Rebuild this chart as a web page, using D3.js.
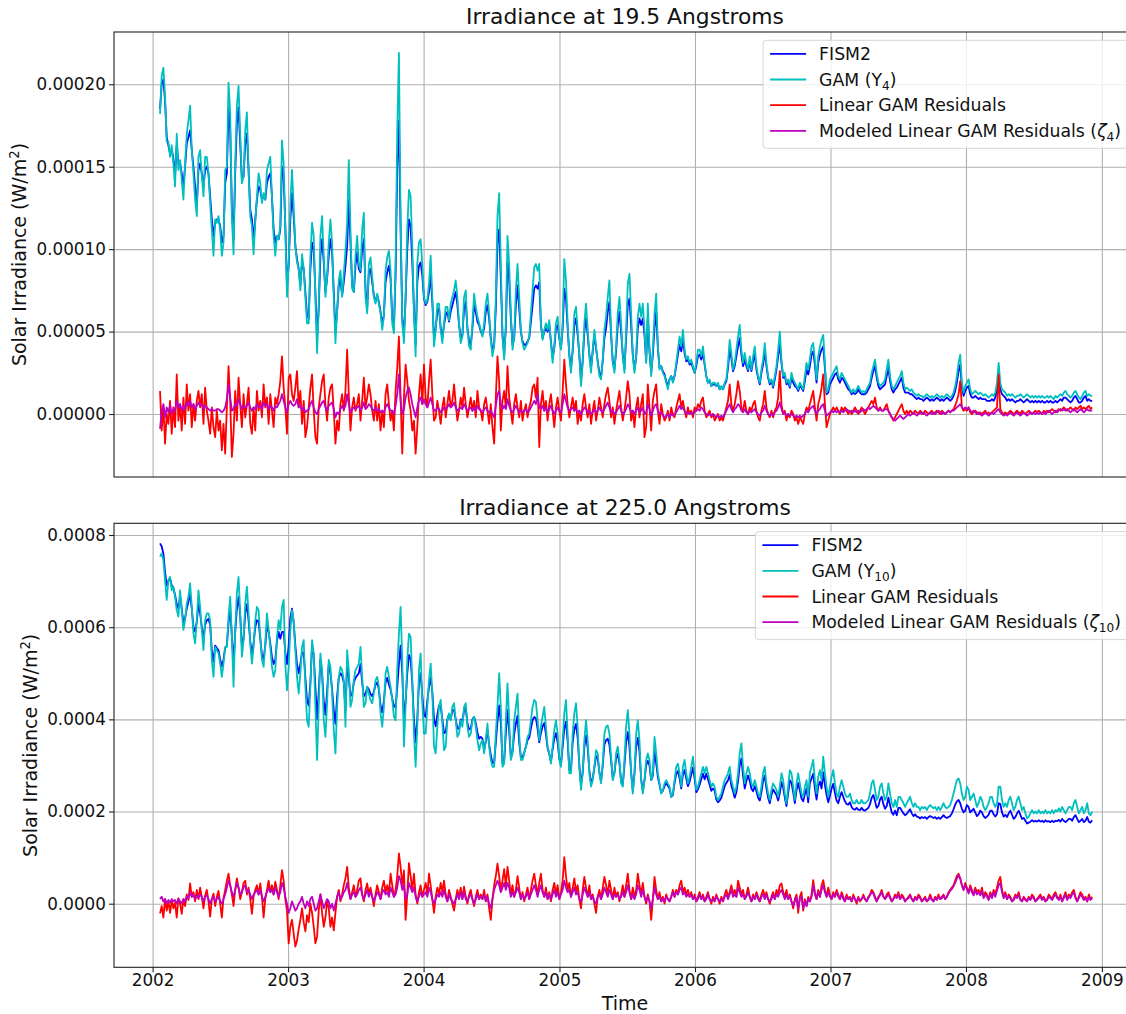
<!DOCTYPE html>
<html>
<head>
<meta charset="utf-8">
<script src="https://cdn.jsdelivr.net/npm/d3@7"></script>
<style>
  html, body { margin: 0; padding: 0; background: #fff; }
  svg { display: block; font-family: "DejaVu Sans", "Liberation Sans", sans-serif; }
</style>
</head>
<body>
<svg id="chart" width="1126" height="1014"></svg>
<script>
// Sampling of every series: one value every 4.5 days starting at startDate (UTC).
// All irradiance values below are in µW/m² (1e-6 W/m²).
const startDate = "2002-01-21";
const stepDays = 4.5;

// ---- 19.5 Å ----
const fism2_195 = [
185,200,203,190,168,163,158,160,155,145,163,152,152,146,138,150,164,168,172,160,
150,138,126,148,152,146,138,148,150,146,132,118,108,116,118,118,114,104,108,140,
146,185,172,124,106,146,176,186,164,142,144,164,170,148,124,118,106,118,130,138,
136,130,132,130,140,144,146,132,112,104,108,106,112,150,144,114,78,90,118,134,
120,102,94,88,78,92,88,74,60,58,88,104,100,74,46,64,96,106,92,74,
82,96,106,98,74,50,62,78,82,72,80,90,102,130,104,78,74,90,98,88,
86,100,106,76,64,86,88,80,72,68,72,68,62,55,60,80,86,90,82,58,
52,84,150,178,112,
58,48,70,100,118,114,92,64,42,80,90,92,84,70,66,68,74,84,68,46,
52,62,64,52,46,54,60,62,56,62,66,70,74,66,54,46,48,64,68,52,
44,42,52,66,62,56,54,50,48,52,62,66,58,46,38,42,64,104,112,82,
48,36,52,92,82,58,42,46,66,78,64,50,44,42,42,44,46,56,66,76,
78,76,80,54,46,50,52,50,54,44,34,40,52,54,46,40,52,76,70,52,
36,28,38,54,58,48,36,20,32,50,58,48,36,28,38,48,40,32,25,23,
32,46,52,62,68,48,32,27,38,54,62,50,36,27,46,66,70,54,36,27,
34,52,58,54,
58,48,32,58,38,25,36,52,62,40,28,29,26,24,20,17,21,23,20,23,
29,36,42,38,45,37,32,33,30,31,28,25,29,35,36,33,37,30,23,19,
20,17,18,18,17,18,15,16,15,18,20,28,39,34,26,29,35,41,46,36,
29,33,29,26,32,26,32,36,27,22,18,25,30,38,29,22,18,20,16,21,
27,35,43,31,22,23,18,19,16,22,19,17,16,14,17,16,14,20,27,24,
29,36,38,30,19,31,36,39,41,28,12,13,18,20,22,24,25,21,19,22,
21,19,17,15,14,12,13,12,13,15,13,12,12,12,13,15,17,22,26,29,
22,17,15,16,
17,18,23,28,20,15,13,15,16,18,20,22,16,13,13,13,12,12,11,10,
9,10,9,9,8,9,10,9,8,9,8,9,10,9,8,9,8,9,10,9,
8,9,11,14,19,26,30,16,11,14,16,17,12,10,10,11,10,9,10,9,
9,9,8,8,8,9,8,10,15,24,15,12,11,10,8,9,8,9,8,7,
8,8,9,8,7,8,9,8,7,8,7,8,7,8,7,8,7,7,8,7,
8,7,7,8,7,8,9,8,10,10,9,8,7,8,10,11,9,7,7,8,
10,11,8,9,8,8
];

const gam_195 = [
182,205,210,193,165,165,156,163,152,138,170,148,154,142,130,152,170,178,187,160,
146,130,120,156,160,145,132,156,156,146,128,112,96,118,116,120,112,96,104,148,
150,201,183,120,97,152,187,199,170,140,144,172,183,148,120,114,97,116,132,146,
140,128,134,130,148,152,156,132,108,96,108,106,114,166,152,112,71,91,128,148,
126,102,92,88,75,97,88,71,55,55,95,116,108,71,37,65,108,120,96,71,
83,104,118,104,71,43,63,81,87,71,85,99,116,154,112,76,74,96,108,91,
87,112,122,71,61,91,95,83,71,67,73,67,61,51,59,87,95,99,87,55,
49,91,172,219,120,
55,43,71,112,136,132,102,61,35,91,104,106,91,71,67,69,79,96,71,41,
51,67,67,51,43,55,65,65,57,67,71,75,81,71,55,43,47,71,75,51,
41,39,55,73,65,59,55,51,47,55,67,73,61,45,35,41,71,120,134,91,
47,33,55,108,91,61,39,47,75,91,71,51,43,39,41,43,47,61,75,89,
91,87,91,55,45,51,55,51,57,43,31,41,55,59,47,39,55,94,81,55,
35,25,39,61,65,51,35,17,31,55,67,51,35,25,39,51,41,31,23,21,
33,51,59,71,81,51,31,25,41,61,71,55,35,25,51,79,85,61,35,25,
35,59,67,59,
67,51,31,67,39,23,39,61,73,41,27,29,25,23,19,15,21,23,19,23,
31,39,47,41,51,39,33,35,31,33,29,25,31,39,39,35,41,31,23,19,
21,17,19,19,17,19,15,17,15,19,21,31,45,37,27,31,39,47,54,39,
31,37,31,27,35,27,35,41,29,23,19,27,33,43,31,23,19,21,17,23,
29,39,50,33,23,25,19,21,17,25,21,19,17,15,19,17,15,23,31,27,
33,41,43,33,21,35,41,45,48,31,13,15,21,23,25,27,29,23,21,25,
23,21,19,17,15,13,15,13,15,17,15,13,14,13,15,17,19,25,29,33,
25,19,17,18,
19,21,27,33,23,17,15,17,19,21,23,26,19,15,16,15,14,15,13,12,
11,12,11,11,10,11,12,11,10,11,10,11,12,11,10,11,10,11,12,11,
10,11,13,17,23,31,36,19,13,17,19,21,15,12,13,14,13,12,13,12,
11,12,11,10,11,12,11,13,19,31,19,15,14,13,11,12,11,12,11,10,
11,11,12,11,10,11,12,11,10,11,10,11,10,11,10,11,10,10,11,10,
11,10,9,11,10,11,12,11,13,14,12,11,10,11,13,14,12,10,9,11,
13,14,11,12,11,11
];

const resid_195 = [
14,-10,5,-18,0,-6,8,-12,4,-8,24,-4,6,-10,10,-6,18,2,12,-8,
6,-4,8,14,4,12,-6,16,2,-4,-12,4,-8,-14,2,-10,-4,-22,-6,-24,
4,29,8,-26,-12,14,-4,22,6,-8,12,-2,6,16,-6,-12,4,-10,14,2,
8,-2,18,4,10,-6,12,2,-8,10,6,12,20,35,16,4,-12,22,24,12,
8,16,26,4,14,-6,8,-14,-8,4,16,24,2,-14,-18,4,12,20,24,6,
-4,10,16,18,2,-18,-4,-10,6,12,2,14,39,12,-10,4,10,2,6,12,
-4,8,22,4,10,18,12,2,-4,8,-4,6,-10,2,-8,12,18,6,-4,2,
-10,14,28,47,10,
-24,10,30,20,8,2,-10,-4,-24,-8,12,24,6,30,10,4,20,33,12,-4,
-2,8,2,-6,4,10,-2,6,14,4,8,18,6,-4,2,10,4,16,6,-2,
4,10,2,8,-2,14,4,2,-4,6,10,2,-6,6,-8,-18,10,35,20,-10,
8,14,4,29,10,2,-6,6,12,4,-2,8,-4,2,6,-2,4,8,16,18,
10,22,-20,6,14,2,8,-4,6,12,2,-8,4,10,2,-4,14,33,18,6,
-2,4,10,2,8,-6,2,-4,6,12,4,-2,6,-6,2,8,-4,2,10,4,
-2,6,12,16,8,-2,4,-6,2,8,14,4,-4,2,10,20,12,-4,2,-8,
4,10,-2,6,
12,-14,-8,18,4,-10,8,14,18,2,-6,6,0,-4,-2,2,-4,4,0,-2,
4,8,12,4,8,2,-2,4,0,2,-2,4,2,6,4,8,10,2,-2,0,
2,-2,0,-4,-2,0,-4,-2,-4,0,4,8,18,6,2,6,12,20,14,4,
2,8,2,0,4,2,6,8,2,-2,-4,2,6,14,4,0,-2,2,-2,2,
4,10,26,6,0,2,-4,0,-2,2,0,-4,-2,-6,-2,-4,-6,0,4,2,
6,10,14,4,-4,6,10,16,24,6,-8,-4,0,2,4,2,4,2,0,4,
2,4,2,0,2,0,2,4,2,0,2,4,2,0,2,4,6,8,6,10,
4,2,4,2,
2,4,6,2,0,-2,-4,-2,0,2,4,6,2,0,2,0,2,1,0,2,
1,0,2,1,0,2,1,0,1,2,0,1,2,1,0,2,1,0,1,2,
1,2,3,5,8,12,20,4,2,3,2,4,1,0,1,2,1,0,1,0,
1,2,0,1,0,1,2,3,4,24,3,1,0,1,0,1,2,1,0,1,
2,1,0,2,1,0,1,2,1,0,1,2,1,2,1,0,2,1,2,1,
2,3,2,1,2,3,2,3,4,3,2,3,4,3,2,4,3,4,5,3,
4,3,4,5,3,4
];

const modeled_195 = [
-9,2,6,-2,4,1,5,0,3,2,8,4,6,2,5,3,7,5,8,4,
6,3,5,7,5,6,3,5,4,3,2,3,2,2,3,3,2,1,2,4,
9,18,10,2,3,6,5,9,6,3,5,4,5,7,4,2,4,3,6,4,
5,3,7,5,6,3,5,4,2,5,4,6,8,12,8,4,1,6,8,6,
5,6,9,4,5,2,4,1,2,3,6,8,4,1,0,3,5,7,8,4,
2,5,6,7,3,-2,1,0,3,5,3,5,12,6,1,3,4,3,4,5,
2,4,7,3,4,6,5,3,2,4,2,3,1,2,1,4,6,4,2,2,
0,5,12,24,8,
0,3,10,14,16,12,6,2,-2,4,8,10,6,9,6,4,7,10,6,2,
2,4,3,1,2,4,3,4,6,4,5,7,4,2,3,4,3,6,4,2,
3,4,2,4,2,5,3,2,1,3,4,2,1,2,0,-2,5,12,14,6,
3,5,3,9,5,2,1,3,5,3,1,2,1,2,3,1,2,4,6,8,
6,12,4,3,5,2,4,1,3,5,2,0,2,4,2,1,6,12,8,4,
2,3,4,2,3,1,2,0,2,4,3,1,2,0,1,3,1,2,4,2,
1,3,5,7,4,1,2,0,1,3,5,2,0,1,3,6,4,1,2,0,
2,4,1,2,
4,0,1,6,3,-1,2,5,6,2,0,1,-1,-2,-1,0,-2,0,-1,0,
1,3,5,3,4,2,0,1,0,1,0,1,2,3,2,4,3,1,0,-1,
0,-1,0,-1,-2,-1,-2,-1,-2,0,2,4,6,3,1,3,4,6,5,2,
1,3,1,0,2,1,2,3,1,0,-1,1,2,5,2,0,-1,0,-1,1,
2,4,7,3,0,1,-1,0,-1,0,-1,-2,-1,-2,-1,-2,-1,0,2,1,
3,4,5,2,0,2,3,5,6,2,-1,0,1,2,1,2,1,2,1,2,
1,2,3,2,1,2,1,2,1,2,1,2,3,2,3,4,3,4,5,4,
3,2,3,2,
2,3,3,2,0,-2,-3,-4,-3,-2,-1,-2,-3,-2,-1,0,-1,0,1,0,
-1,0,1,0,1,0,-1,0,1,0,1,0,1,2,1,0,1,0,1,2,
1,2,2,3,4,5,6,4,3,4,3,4,2,1,2,1,0,1,0,-1,
0,1,0,-1,0,1,0,1,2,3,1,0,-1,0,-1,0,1,0,-1,0,
1,0,-1,0,1,0,-1,0,1,0,1,0,1,0,1,0,1,0,1,2,
1,0,1,2,1,2,3,2,3,2,3,2,1,2,3,2,1,2,3,2,
1,2,3,2,2,2
];

// ---- 225.0 Å ----
const fism2_2250 = [
782,775,760,720,690,700,706,690,684,670,650,640,668,640,610,620,640,655,672,640,
600,590,612,650,630,600,575,605,615,618,605,550,525,560,555,550,530,515,530,555,
560,610,640,580,520,590,640,665,625,560,575,630,650,615,570,540,565,600,615,612,
575,540,530,560,605,590,565,535,520,530,570,590,575,590,590,545,520,560,620,640,
610,560,520,500,520,545,545,490,440,430,480,560,540,470,400,460,530,500,440,410,
460,520,500,465,420,390,450,490,500,495,480,420,520,490,450,455,480,490,495,500,
520,480,450,455,470,465,455,450,460,475,480,465,430,415,440,480,490,475,465,445,
430,425,470,520,560,500,400,440,500,540,530,480,400,350,400,480,500,450,410,405,
440,470,490,460,400,385,410,430,430,400,370,372,400,410,400,420,420,400,380,380,
400,395,420,425,392,378,380,400,405,392,372,358,362,
358,335,352,378,345,322,305,305,350,395,430,392,305,310,370,420,375,318,330,368,
390,408,350,318,318,328,340,355,360,380,398,405,402,380,350,370,385,392,368,338,
325,308,335,358,370,350,315,302,340,380,395,352,290,290,350,378,390,360,300,258,
285,340,365,338,288,262,272,295,320,316,285,266,300,345,355,358,345,312,272,284,
315,325,305,265,258,300,350,372,340,285,245,282,340,360,330,270,245,268,300,310,
300,268,278,330,305,275,258,240,245,255,262,256,250,232,236,262,282,288,272,250,
280,290,272,255,265,280,295,272,242,248,258,270,282,270,282,270,258,245,250,245,
226,220,224,230,242,255,262,268,280,256,244,230,242,266,300,315,278,250,266,278,
266,250,244,255,244,230,224,242,266,278,250,230,218,236,248,242,236,224,240,264,
252,230,212,240,268,262,242,218,246,262,246,228,
222,238,250,220,262,272,282,250,226,255,265,250,285,258,236,220,234,250,260,240,
224,218,232,242,232,222,216,215,220,210,205,204,208,204,203,208,203,202,205,208,
216,230,236,222,208,212,226,232,216,206,212,230,214,198,193,202,192,208,208,202,
196,192,195,200,205,196,190,194,189,188,185,188,186,188,184,188,190,188,186,188,
184,187,184,188,192,188,186,188,190,196,205,215,222,225,218,206,198,202,214,210,
198,202,206,198,190,194,202,198,190,186,189,193,202,202,194,189,194,218,216,198,
189,193,188,196,202,193,184,188,196,202,193,184,186,180,174,176,178,181,178,180,
178,181,178,180,177,181,178,179,177,180,177,180,179,182,178,184,180,177,180,184,
184,180,188,192,184,177,180,184,177,180,188,178,176,181
];

const gam_2250 = [
753,760,745,702,659,702,709,680,688,666,637,623,680,637,594,615,651,666,695,644,
586,565,615,680,644,594,550,615,630,630,615,529,492,557,550,543,521,492,521,557,
557,623,666,579,471,594,673,709,630,536,572,651,688,630,565,521,557,615,644,637,
579,529,514,565,630,594,557,514,492,507,579,615,594,644,659,521,463,514,594,637,
615,550,492,456,500,557,572,471,398,384,471,572,543,427,312,427,543,507,398,362,
435,529,514,456,377,326,427,492,514,507,485,384,550,507,427,442,485,507,514,521,
557,492,427,435,471,456,442,435,456,485,492,471,413,384,427,500,514,492,471,442,
406,398,507,586,644,529,341,427,529,586,579,485,369,297,384,507,543,435,369,369,
427,485,521,456,341,326,384,427,442,391,333,341,398,413,398,427,435,398,362,369,
398,384,427,435,384,362,369,398,406,384,355,333,348,
355,326,355,391,341,312,297,297,369,427,500,427,297,304,398,478,398,312,326,398,
427,456,369,312,312,326,341,362,369,398,427,442,438,398,355,384,406,427,384,341,
326,304,341,377,398,369,312,297,355,413,442,369,283,283,369,413,435,384,297,247,
283,355,398,355,283,254,268,297,333,326,283,261,304,369,384,387,369,319,268,283,
326,341,312,261,254,312,384,420,369,283,239,283,369,398,355,268,239,268,312,326,
312,268,283,362,326,283,261,239,247,261,268,261,254,232,239,268,297,304,283,254,
297,312,283,261,275,297,319,283,247,254,268,283,297,283,297,283,268,254,261,254,
232,225,232,239,254,268,275,283,297,268,254,239,254,283,326,348,297,261,283,297,
283,261,254,268,254,239,232,254,283,297,261,239,225,247,261,254,247,232,254,283,
268,239,218,254,290,283,254,225,261,283,261,239,
232,254,268,232,283,297,312,268,239,275,290,268,319,283,254,232,254,275,290,261,
239,232,254,268,254,239,232,232,239,225,218,218,225,218,218,225,218,218,221,225,
239,261,268,247,225,232,254,261,239,225,232,261,239,218,210,225,210,232,232,225,
218,210,218,225,232,218,210,218,210,210,203,210,207,210,203,210,214,210,207,210,
203,210,203,210,218,210,207,210,214,225,239,254,268,272,261,239,225,232,254,247,
225,232,239,225,210,218,232,225,210,203,210,218,232,232,218,210,218,254,254,225,
210,218,210,225,232,218,203,210,225,232,218,203,210,196,185,189,196,203,196,200,
196,203,196,200,196,203,196,200,196,203,196,203,200,207,200,210,203,196,203,210,
210,203,218,225,210,196,203,210,196,203,218,196,192,200
];

const resid_2250 = [
-21,-5,-30,10,-15,5,-20,8,-10,2,-30,12,0,-22,10,-5,20,8,44,15,
25,5,30,10,35,15,-10,18,30,5,-28,10,22,-5,15,28,0,-30,12,30,
50,65,40,20,-5,30,55,35,10,25,45,50,20,35,10,-22,15,30,40,20,
44,15,-30,10,30,50,25,40,20,48,30,10,40,73,50,10,-15,-86,-50,-35,
-65,-93,-80,-55,-35,-10,-40,-60,-25,-40,0,-20,-50,-86,-72,-15,20,-20,-50,-30,
5,-10,-50,-30,-58,-20,15,30,5,20,40,55,80,35,10,25,40,15,30,50,
55,20,5,30,44,20,35,15,-5,20,40,25,10,35,50,25,40,20,65,40,
15,30,60,109,80,40,72,-35,20,88,60,30,65,20,0,25,40,15,30,45,
20,65,40,10,-20,15,35,20,45,25,50,20,5,30,15,0,-15,10,30,15,
35,10,37,15,0,20,30,10,-5,15,30,10,20,
10,30,5,20,-10,-35,10,40,60,87,60,30,50,75,40,80,50,20,40,15,
30,60,35,10,25,5,20,35,10,30,50,65,40,20,45,65,30,15,35,10,
25,5,30,45,20,40,10,25,50,101,60,30,45,15,35,55,25,40,10,-10,
30,58,35,15,40,10,20,0,-20,15,30,10,35,58,40,20,50,30,10,35,
15,25,5,20,40,15,40,65,30,10,35,15,30,65,40,20,45,15,0,20,
5,-35,10,58,30,10,25,5,15,0,20,10,5,15,30,15,30,20,40,50,
25,35,20,30,15,25,10,20,5,15,25,10,20,5,15,25,10,0,15,5,
20,10,0,15,5,20,30,15,25,40,20,30,15,50,35,20,30,10,20,35,
15,5,20,10,25,15,5,20,30,15,25,10,0,15,25,10,30,20,40,44,
25,15,30,10,20,5,-10,10,20,-20,15,25,
-15,10,-5,15,5,20,51,25,10,30,15,40,51,30,15,35,20,10,25,15,
30,20,10,25,15,5,20,10,15,5,20,10,0,15,5,10,20,10,5,15,
20,30,25,15,5,15,20,30,15,10,20,25,15,5,10,20,15,25,10,20,
15,5,10,15,20,10,5,15,10,20,15,5,10,15,5,10,20,10,5,15,
10,20,10,15,20,10,15,25,30,35,40,50,60,65,55,40,30,45,35,25,
40,30,20,35,25,30,20,35,15,25,20,10,25,15,30,20,35,50,58,30,
15,25,10,20,15,5,10,20,15,25,10,5,15,10,5,15,10,20,15,5,
10,15,20,10,15,5,10,20,15,10,20,25,15,10,20,5,15,25,10,20,
15,25,30,15,5,15,25,20,10,15,5,20,10,15
];

const modeled_2250 = [
10,15,5,10,0,8,2,10,5,8,0,10,5,0,10,5,15,12,25,15,
20,10,18,12,20,15,5,15,18,10,0,10,15,5,10,15,5,0,10,20,
35,50,40,25,15,30,45,35,20,25,35,40,25,30,20,10,20,25,30,20,
30,15,5,15,25,35,25,30,20,35,25,15,25,45,35,15,0,-20,-10,5,
-5,-15,-10,0,5,15,0,-10,5,-5,10,15,0,-15,-10,5,20,5,-10,0,
10,5,-10,0,-15,0,15,25,10,15,25,30,45,25,10,20,25,15,20,30,
35,20,10,20,30,15,25,15,5,15,25,20,10,25,30,20,25,15,35,25,
15,20,35,60,50,30,40,10,20,45,35,25,35,15,5,15,25,15,20,25,
15,35,25,10,0,10,20,15,25,15,30,15,5,20,10,5,0,10,20,10,
25,10,25,10,5,15,20,10,0,10,20,10,15,
10,20,5,15,0,-10,10,30,40,50,40,25,35,45,30,45,35,15,25,15,
25,35,25,10,20,10,15,25,10,20,30,40,30,15,30,40,25,15,25,10,
20,10,20,30,15,25,10,20,30,50,35,25,30,15,25,35,20,25,10,5,
20,35,25,15,25,10,15,5,0,15,20,10,20,35,25,15,30,20,10,20,
15,20,10,15,25,15,25,40,25,10,20,10,20,40,30,15,30,15,5,15,
5,-10,10,35,20,10,15,5,10,5,15,10,5,15,25,15,25,20,30,35,
20,25,15,20,15,20,10,15,5,10,20,10,15,5,10,20,10,5,10,5,
15,10,5,10,5,15,20,10,20,30,15,20,15,35,25,15,20,10,15,25,
15,5,15,10,20,10,5,15,20,10,20,10,5,10,20,10,20,15,25,30,
20,10,20,10,15,5,-5,5,15,-10,10,15,
-10,5,-5,10,5,15,40,20,10,25,15,30,40,25,15,25,15,10,20,15,
25,15,10,20,10,5,15,10,12,5,15,10,5,12,8,10,15,10,5,12,
18,25,22,12,5,12,18,25,15,10,15,20,12,5,10,15,12,20,10,15,
12,5,10,12,18,10,5,12,8,15,12,5,8,12,5,8,15,8,5,12,
8,15,10,12,18,10,15,22,28,32,38,45,55,62,55,40,30,40,32,22,
35,25,18,30,20,25,18,28,12,20,15,8,20,12,25,15,28,40,45,25,
12,20,10,15,12,5,8,15,12,20,8,5,12,8,5,12,8,15,12,5,
8,12,15,8,12,5,8,15,12,8,15,20,12,8,15,5,12,20,8,15,
12,20,25,12,5,12,20,15,8,12,5,15,8,12
];

// Axis ticks and text
const xTickYears = [2002, 2003, 2004, 2005, 2006, 2007, 2008, 2009];
const yTicks195 = [0, 0.00005, 0.0001, 0.00015, 0.0002];
const yTicks2250 = [0, 0.0002, 0.0004, 0.0006, 0.0008];
const titles = ["Irradiance at 19.5 Angstroms", "Irradiance at 225.0 Angstroms"];
const legend195 = ["FISM2", "GAM (Y_{4})", "Linear GAM Residuals", "Modeled Linear GAM Residuals (ζ_{4})"];
const legend2250 = ["FISM2", "GAM (Y_{10})", "Linear GAM Residuals", "Modeled Linear GAM Residuals (ζ_{10})"];
const yLabel = "Solar Irradiance (W/m^{2})";
const xLabel = "Time";

// ---------------- drawing ----------------
const TICK_FS = 16.8;     // tick labels
const LEG_FS = 17.3;      // legend entries
const LABEL_FS = 19;      // axis labels
const TITLE_FS = 21.8;    // panel titles
const xLeft = 114, xRight = 1136;
const colors = ["#0000ff", "#00bfbf", "#ff0000", "#bf00bf"];

const svg = d3.select("#chart");
svg.append("rect").attr("width", 1126).attr("height", 1014).attr("fill", "#fff");

const x = d3.scaleUtc()
  .domain([new Date(Date.UTC(2001, 8, 19)), new Date(Date.UTC(2009, 3, 3))])
  .range([xLeft, xRight]);
const t0 = Date.parse(startDate + "T00:00:00Z");
const dateAt = i => new Date(t0 + i * stepDays * 86400000);
const yearTicks = xTickYears.map(yr => new Date(Date.UTC(yr, 0, 1)));

// Text with _{sub}, ^{sup} and an italic ζ
function richText(sel, str, fs) {
  const re = /(ζ)|_\{([^}]*)\}|\^\{([^}]*)\}/g;
  let last = 0, m, shift = 0;
  const add = (s, opt) => {
    const t = sel.append("tspan").text(s);
    let target = 0;
    if (opt.italic) t.attr("font-style", "italic");
    if (opt.sub) { t.attr("font-size", fs * 0.7); target = fs * 0.22; }
    if (opt.sup) { t.attr("font-size", fs * 0.7); target = -fs * 0.36; }
    if (target !== shift) { t.attr("dy", target - shift); shift = target; }
  };
  while ((m = re.exec(str))) {
    if (m.index > last) add(str.slice(last, m.index), {});
    if (m[1]) add("ζ", { italic: true });
    else if (m[2] !== undefined) add(m[2], { sub: true });
    else add(m[3], { sup: true });
    last = re.lastIndex;
  }
  if (last < str.length) add(str.slice(last), {});
}

const panels = [
  { top: 32, bottom: 477, domain: [-38.2e-6, 231.7e-6], ticks: yTicks195, fmt: ".5f",
    title: titles[0], legend: legend195, labelX: 26, showX: false,
    series: [fism2_195, gam_195, resid_195, modeled_195] },
  { top: 523.3, bottom: 967.3, domain: [-138e-6, 825.4e-6], ticks: yTicks2250, fmt: ".4f",
    title: titles[1], legend: legend2250, labelX: 36.5, showX: true,
    series: [fism2_2250, gam_2250, resid_2250, modeled_2250] }
];

panels.forEach((p, pi) => {
  const y = d3.scaleLinear().domain(p.domain).range([p.bottom, p.top]);
  const g = svg.append("g");

  // grid
  g.append("g")
    .attr("transform", `translate(0,${p.bottom})`)
    .call(d3.axisBottom(x).tickValues(yearTicks).tickSize(-(p.bottom - p.top)).tickFormat(""))
    .call(s => s.select(".domain").remove())
    .call(s => s.selectAll("line").attr("stroke", "#b0b0b0").attr("stroke-width", 1.1));
  g.append("g")
    .attr("transform", `translate(${xLeft},0)`)
    .call(d3.axisLeft(y).tickValues(p.ticks).tickSize(-(xRight - xLeft)).tickFormat(""))
    .call(s => s.select(".domain").remove())
    .call(s => s.selectAll("line").attr("stroke", "#b0b0b0").attr("stroke-width", 1.1));

  // data lines
  const clipId = "clip" + pi;
  svg.append("clipPath").attr("id", clipId)
    .append("rect").attr("x", xLeft).attr("y", p.top)
    .attr("width", xRight - xLeft).attr("height", p.bottom - p.top);
  const line = d3.line()
    .x((d, i) => x(dateAt(i)))
    .y(d => y(d * 1e-6));
  const lg = g.append("g").attr("clip-path", `url(#${clipId})`);
  p.series.forEach((s, k) => {
    lg.append("path").datum(s)
      .attr("d", line)
      .attr("fill", "none")
      .attr("stroke", colors[k])
      .attr("stroke-width", 1.8)
      .attr("stroke-linejoin", "round");
  });

  // frame
  g.append("rect")
    .attr("x", xLeft).attr("y", p.top)
    .attr("width", xRight - xLeft).attr("height", p.bottom - p.top)
    .attr("fill", "none").attr("stroke", "#222").attr("stroke-width", 1.1);

  // y axis
  g.append("g")
    .attr("transform", `translate(${xLeft},0)`)
    .call(d3.axisLeft(y).tickValues(p.ticks).tickFormat(d3.format(p.fmt)).tickSize(4.9).tickPadding(3.2))
    .call(s => s.select(".domain").remove())
    .call(s => s.selectAll("line").attr("stroke", "#222").attr("stroke-width", 1.1))
    .call(s => s.selectAll("text").attr("font-size", TICK_FS).attr("fill", "#111")
      .attr("font-family", "DejaVu Sans, sans-serif"));

  // x axis (bottom panel only)
  if (p.showX) {
    g.append("g")
      .attr("transform", `translate(0,${p.bottom})`)
      .call(d3.axisBottom(x).tickValues(yearTicks).tickFormat(d3.utcFormat("%Y")).tickSize(4.9).tickPadding(2))
      .call(s => s.select(".domain").remove())
      .call(s => s.selectAll("line").attr("stroke", "#222").attr("stroke-width", 1.1))
      .call(s => s.selectAll("text").attr("font-size", TICK_FS).attr("fill", "#111")
        .attr("font-family", "DejaVu Sans, sans-serif"));
    svg.append("text")
      .attr("x", (xLeft + xRight) / 2).attr("y", 1010)
      .attr("text-anchor", "middle").attr("font-size", LABEL_FS).attr("fill", "#111")
      .text(xLabel);
  }

  // title
  svg.append("text")
    .attr("x", (xLeft + xRight) / 2).attr("y", p.top - 8.5)
    .attr("text-anchor", "middle").attr("font-size", TITLE_FS).attr("fill", "#111")
    .text(p.title);

  // y label
  const yl = svg.append("text")
    .attr("transform", `translate(${p.labelX},${(p.top + p.bottom) / 2}) rotate(-90)`)
    .attr("text-anchor", "middle").attr("font-size", LABEL_FS).attr("fill", "#111");
  richText(yl, yLabel, LABEL_FS);

  // legend
  const leg = svg.append("g");
  const box = leg.append("rect");
  const rowGap = 25.7;
  const boxTop = p.top + 8.3;
  const texts = [];
  p.legend.forEach((lab, k) => {
    const cy = boxTop + 13.5 + k * rowGap;
    leg.append("line").attr("class", "h")
      .attr("y1", cy).attr("y2", cy)
      .attr("stroke", colors[k]).attr("stroke-width", 1.8);
    const t = leg.append("text").attr("y", cy).attr("dy", "0.36em")
      .attr("font-size", LEG_FS).attr("fill", "#111");
    richText(t, lab, LEG_FS);
    texts.push(t);
  });
  const maxW = d3.max(texts, t => t.node().getBBox().width);
  const boxRight = xRight - 8.3;
  const boxLeft = boxRight - (56 + maxW + 6.7);
  box.attr("x", boxLeft).attr("y", boxTop)
    .attr("width", boxRight - boxLeft).attr("height", 108)
    .attr("rx", 3.3).attr("ry", 3.3)
    .attr("fill", "#fff").attr("fill-opacity", 0.8)
    .attr("stroke", "#cccccc").attr("stroke-opacity", 0.8).attr("stroke-width", 1);
  leg.selectAll("line.h").attr("x1", boxLeft + 7).attr("x2", boxLeft + 43);
  texts.forEach(t => t.attr("x", boxLeft + 56));
  texts.forEach(t => t.select("tspan").attr("x", boxLeft + 56));
});
</script>
</body>
</html>
